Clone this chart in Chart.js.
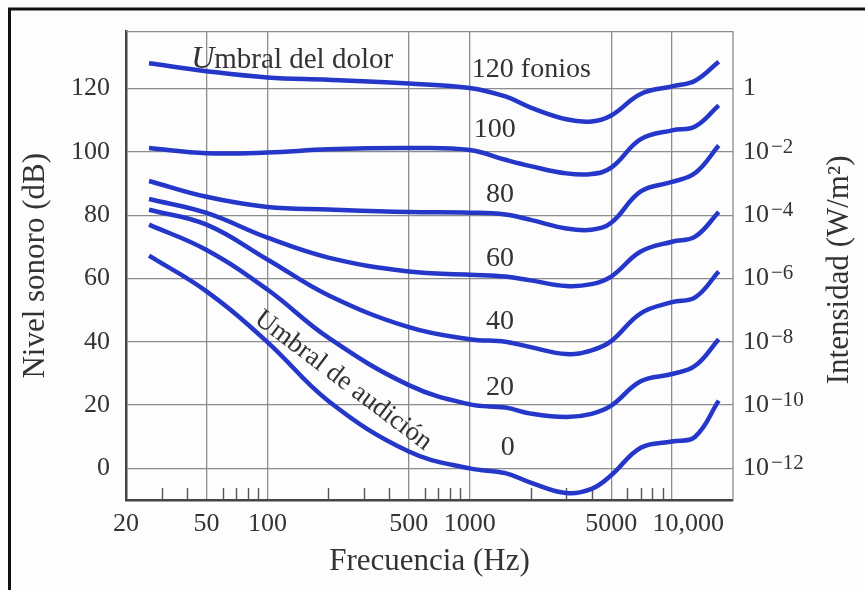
<!DOCTYPE html>
<html>
<head>
<meta charset="utf-8">
<script src="https://cdn.jsdelivr.net/npm/chart.js@4.4.1/dist/chart.umd.min.js"></script>
<style>
  html, body { margin: 0; padding: 0; background: #fdfdfd; overflow: hidden; }
  #wrap { width: 865px; height: 590px; }
</style>
</head>
<body>
<div id="wrap"><canvas id="chart" width="865" height="590"></canvas></div>
<script>
// Frequencies (Hz) where each curve was read
var freqs = [26, 50, 100, 200, 500, 1000, 1500, 2000, 3000, 4000, 5000, 7000, 10000, 13000, 17000];

// Sound level (dB) of each equal loudness curve
var phon120 = [128, 125.5, 123.5, 122.8, 121.6, 120.2, 117.5, 114, 110.3, 109.6, 111.5, 118.3, 120.7, 122.5, 128.5];
var phon100 = [101.2, 99.6, 99.8, 100.8, 101.2, 100.6, 97.5, 95.5, 93.2, 93, 95, 104, 106.8, 108, 114.7];
var phon80 = [90.8, 85.8, 82.6, 81.8, 81, 80.8, 80.2, 78.5, 75.8, 75.4, 77.6, 87.5, 90.5, 93.3, 102];
var phon60 = [85.1, 80.7, 72.9, 66.6, 62.2, 61.2, 60.6, 59.4, 57.6, 58.2, 60.6, 68.5, 71.6, 73.2, 81];
var phon40 = [81.7, 77, 66, 54.7, 44.6, 40.8, 40, 38.3, 36.1, 37.3, 40.2, 49, 52.5, 54, 62.2];
var phon20 = [77, 69, 56.5, 41.3, 26.3, 20.2, 19.2, 17.3, 16.2, 17.2, 19.8, 27.5, 29.8, 32.4, 40.8];
var phon0 = [67.2, 55.9, 39.9, 21.3, 5.3, 0, -1.5, -4.5, -7.8, -6.5, -2.2, 6.5, 8.5, 10, 21.4];

var curves = [phon120, phon100, phon80, phon60, phon40, phon20, phon0];
var phonNames = ['120 fonios', '100', '80', '60', '40', '20', '0'];

// Axis ticks
var freqTicks = [20, 50, 100, 500, 1000, 5000, 10000];
var freqTickLabels = ['20', '50', '100', '500', '1000', '5000', '10,000'];
var minorFreqs = [30, 40, 60, 70, 80, 90, 200, 300, 400, 600, 700, 800, 900, 2000, 3000, 4000, 6000, 7000, 8000, 9000];
var dbTicks = [0, 20, 40, 60, 80, 100, 120];
var intensityExps = [-12, -10, -8, -6, -4, -2, 0];

var serif = '"Liberation Serif", "Times New Roman", serif';
var textColor = '#333';
var blue = '#2437c9';

// Where the texts inside the plot sit (frequency, dB)
var phonLabelPos = [[1300, 126], [1330, 107], [1410, 86.6], [1410, 66.4], [1410, 46.3], [1410, 25.5], [1540, 6.6]];
var painPos = [42, 126.6];
var hearingPos = [237, 27.7];

var datasets = curves.map(function(c) {
  return {
    data: c.map(function(v, i) { return { x: freqs[i], y: v }; }),
    borderColor: blue,
    borderWidth: 4.5,
    pointRadius: 0,
    fill: false,
    tension: 0.4
  };
});

// Draw the extra bits: plot frame, minor ticks, labels, right axis
var extras = {
  id: 'extras',
  beforeDatasetsDraw: function(chart) {
    var ctx = chart.ctx;
    var a = chart.chartArea;
    var xs = chart.scales.x;
    ctx.save();
    ctx.strokeStyle = '#8c8c8c';
    ctx.lineWidth = 1.3;
    ctx.beginPath();
    ctx.moveTo(a.left, a.top);
    ctx.lineTo(a.right, a.top);
    ctx.lineTo(a.right, a.bottom);
    ctx.stroke();

    // short minor ticks up from the bottom axis
    ctx.strokeStyle = '#555';
    ctx.lineWidth = 1.4;
    minorFreqs.forEach(function(f) {
      var px = Math.round(xs.getPixelForValue(f)) + 0.5;
      ctx.beginPath();
      ctx.moveTo(px, a.bottom);
      ctx.lineTo(px, a.bottom - 12);
      ctx.stroke();
    });
    ctx.restore();
  },
  afterDatasetsDraw: function(chart) {
    var ctx = chart.ctx;
    var a = chart.chartArea;
    var xs = chart.scales.x;
    var ys = chart.scales.y;
    ctx.save();
    ctx.fillStyle = textColor;

    // phon labels
    ctx.textBaseline = 'middle';
    ctx.font = '28px ' + serif;
    phonNames.forEach(function(name, i) {
      var px = xs.getPixelForValue(phonLabelPos[i][0]);
      var py = ys.getPixelForValue(phonLabelPos[i][1]);
      var num = name.split(' ')[0];
      var w = ctx.measureText(num).width;
      ctx.textAlign = 'left';
      ctx.fillText(name, px - w / 2, py);
    });

    // Umbral del dolor
    ctx.textBaseline = 'alphabetic';
    var ux = xs.getPixelForValue(painPos[0]);
    var uy = ys.getPixelForValue(painPos[1]);
    ctx.font = 'italic 32px ' + serif;
    ctx.fillText('U', ux, uy);
    var uw = ctx.measureText('U').width;
    ctx.font = '29px ' + serif;
    ctx.fillText('mbral del dolor', ux + uw, uy);

    // Umbral de audicion, along the curve
    ctx.save();
    ctx.translate(xs.getPixelForValue(hearingPos[0]), ys.getPixelForValue(hearingPos[1]));
    ctx.rotate(37 * Math.PI / 180);
    ctx.textAlign = 'center';
    ctx.textBaseline = 'middle';
    ctx.font = '27px ' + serif;
    ctx.fillText('Umbral de audición', 0, 0);
    ctx.restore();

    // right axis: intensity labels
    ctx.textAlign = 'left';
    dbTicks.forEach(function(db, i) {
      var py = ys.getPixelForValue(db);
      var px = a.right + 10;
      var e = intensityExps[i];
      ctx.font = '26px ' + serif;
      ctx.textBaseline = 'middle';
      if (e === 0) {
        ctx.fillText('1', px, py);
        return;
      }
      ctx.fillText('10', px, py);
      var w = ctx.measureText('10').width;
      ctx.font = '21px ' + serif;
      ctx.textBaseline = 'alphabetic';
      ctx.fillText('\u2212' + Math.abs(e), px + w + 2, py + 1);
    });

    // right axis title
    ctx.save();
    ctx.translate(840, (a.top + a.bottom) / 2 + 4);
    ctx.rotate(-Math.PI / 2);
    ctx.textAlign = 'center';
    ctx.textBaseline = 'middle';
    ctx.font = '31px ' + serif;
    ctx.fillText('Intensidad (W/m\u00b2)', 0, 0);
    ctx.restore();

    // outer frame of the figure
    ctx.strokeStyle = '#111';
    ctx.lineWidth = 3;
    ctx.beginPath();
    ctx.moveTo(9.5, 600);
    ctx.lineTo(9.5, 9);
    ctx.lineTo(870, 9);
    ctx.stroke();
    ctx.restore();
  }
};

var ctx = document.getElementById('chart').getContext('2d');
new Chart(ctx, {
  type: 'line',
  data: { datasets: datasets },
  options: {
    responsive: false,
    animation: false,
    layout: { padding: { top: 30, right: 132, left: 0, bottom: 0 } },
    plugins: { legend: { display: false }, tooltip: { enabled: false } },
    scales: {
      x: {
        type: 'logarithmic',
        min: 20,
        max: 20000,
        afterBuildTicks: function(s) {
          s.ticks = freqTicks.map(function(v) { return { value: v }; });
        },
        afterFit: function(s) { s.height = 90; },
        ticks: {
          autoSkip: false,
          maxRotation: 0,
          padding: 9,
          color: textColor,
          font: { family: serif, size: 26 },
          callback: function(v) {
            var i = freqTicks.indexOf(v);
            if (i < 0) return '';
            // the last label sits a bit right of its grid line
            return v === 10000 ? '     ' + freqTickLabels[i] : freqTickLabels[i];
          }
        },
        grid: { color: '#8c8c8c', lineWidth: 1.3, drawTicks: false },
        border: { color: '#444', width: 2.5 },
        title: {
          display: true,
          text: 'Frecuencia (Hz)',
          color: textColor,
          font: { family: serif, size: 31 },
          padding: { top: 0, bottom: 10 }
        }
      },
      y: {
        min: -10,
        max: 138,
        afterBuildTicks: function(s) {
          s.ticks = dbTicks.map(function(v) { return { value: v }; });
        },
        afterFit: function(s) { s.width = 126; },
        ticks: {
          padding: 16,
          color: textColor,
          font: { family: serif, size: 26 }
        },
        grid: { color: '#8c8c8c', lineWidth: 1.3, drawTicks: false },
        border: { color: '#444', width: 2.5 },
        title: {
          display: true,
          text: 'Nivel sonoro (dB)',
          color: textColor,
          font: { family: serif, size: 31 },
          padding: { top: 17, bottom: 0 }
        }
      }
    }
  },
  plugins: [extras]
});
</script>
</body>
</html>
